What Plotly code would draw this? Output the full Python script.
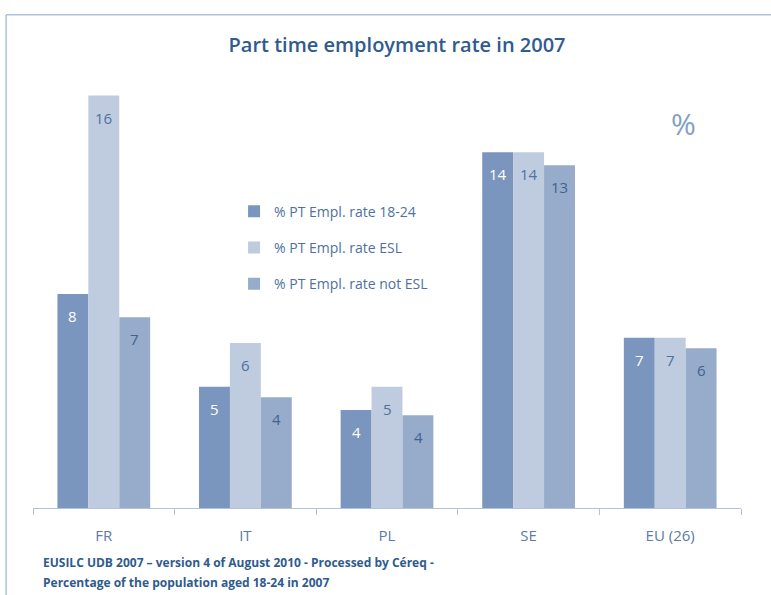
import plotly.graph_objects as go

# Part-time employment rate, 2007 (% of population aged 18-24)
countries = ["FR", "IT", "PL", "SE", "EU (26)"]
rate_18_24 = [8.3, 4.7, 3.8, 13.8, 6.6]
rate_esl = [16.0, 6.4, 4.7, 13.8, 6.6]
rate_not_esl = [7.4, 4.3, 3.6, 13.3, 6.2]

series_names = ["% PT Empl. rate 18-24", "% PT Empl. rate ESL", "% PT Empl. rate not ESL"]
series_values = [rate_18_24, rate_esl, rate_not_esl]
bar_colors = ["#7A96BE", "#BFCCDF", "#96ACCA"]
label_colors = ["#FFFFFF", "#4E71A0", "#41628F"]

FONT = "Liberation Sans Narrow, Open Sans, sans-serif"
BLUE_DARK = "#2F5B8E"
BLUE_MID = "#5B7BA6"

fig = go.Figure()
for i, (name, vals, col) in enumerate(zip(series_names, series_values, bar_colors)):
    fig.add_trace(go.Bar(
        x=countries, y=vals, name=name,
        marker=dict(color=col, line=dict(width=0)),
        legendgroup=f"g{i}",
        hoverinfo="x+y",
    ))

# value labels near the top of each bar
bar_px = 31
for i, (vals, tcol) in enumerate(zip(series_values, label_colors)):
    for c, v in zip(countries, vals):
        fig.add_annotation(
            x=c, y=v, xref="x", yref="y",
            text=f"{v:.0f}", showarrow=False,
            xshift=(i - 1) * bar_px, yshift=-22,
            yanchor="middle", xanchor="center",
            font=dict(family=FONT, size=15, color=tcol),
        )

fig.add_annotation(
    x=0.919, y=0.828, xref="paper", yref="paper",
    text="%", showarrow=False, xanchor="center", yanchor="middle",
    font=dict(family=FONT, size=30, color="#829FC4"),
)

footnotes = [
    "<b>EUSILC UDB 2007 – version 4 of August 2010 - Processed by Céreq -</b>",
    "<b>Percentage of the population aged 18-24 in 2007</b>",
]
for j, line in enumerate(footnotes):
    fig.add_annotation(
        x=0.011, y=-0.1185 - j * 0.043, xref="paper", yref="paper",
        text=line, showarrow=False, xanchor="left", yanchor="middle",
        font=dict(family=FONT, size=12, color=BLUE_DARK),
    )

# thin frame on the top and left
frame = dict(color="#AFC1D8", width=1.5)
fig.add_shape(type="line", xref="paper", yref="paper",
              x0=-0.038, x1=1.1, y0=1.063, y1=1.063, line=frame)
fig.add_shape(type="line", xref="paper", yref="paper",
              x0=-0.038, x1=-0.038, y0=1.063, y1=-0.3, line=frame)

fig.update_layout(
    width=771, height=595,
    margin=dict(l=33, r=30, t=44, b=87),
    paper_bgcolor="white", plot_bgcolor="white",
    barmode="group", bargap=0.345, bargroupgap=0,
    title=dict(
        text="Part time employment rate in 2007",
        x=0.515, xanchor="center", y=1 - 45 / 595, yanchor="middle",
        font=dict(family=FONT, size=20, color=BLUE_DARK, weight=600),
    ),
    legend=dict(
        x=0.284, y=0.673, xanchor="left", yanchor="top",
        bgcolor="rgba(0,0,0,0)",
        font=dict(family=FONT, size=14, color="#4E71A0"),
        traceorder="grouped", tracegroupgap=15,
        itemwidth=30,
    ),
    xaxis=dict(
        showline=True, linecolor="#B3C2D6", linewidth=1,
        ticks="outside", tickson="boundaries", ticklen=6, tickcolor="#B3C2D6",
        ticklabelstandoff=14,
        tickfont=dict(family=FONT, size=15, color=BLUE_MID),
        showgrid=False,
    ),
    yaxis=dict(range=[0, 18], visible=False, showgrid=False, zeroline=False),
)

fig.write_html("out.html")
